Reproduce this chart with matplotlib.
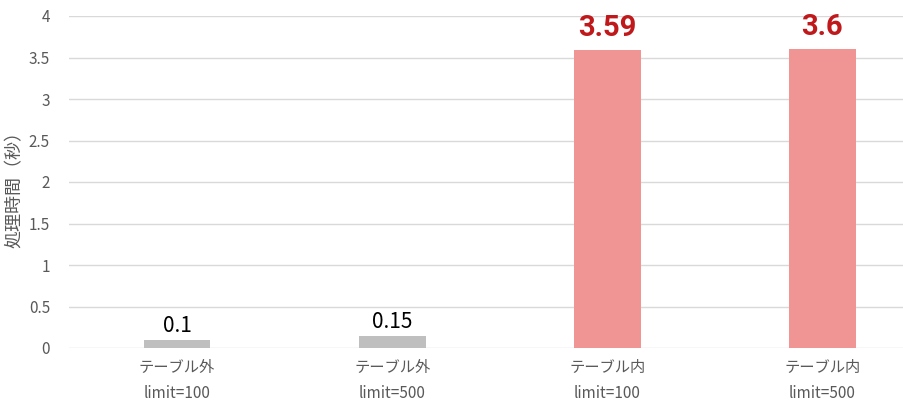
import matplotlib.pyplot as plt

plt.rcParams['font.family'] = ['Noto Sans CJK JP', 'DejaVu Sans']

# data
cases = ['テーブル外', 'テーブル外', 'テーブル内', 'テーブル内']
limits = ['limit=100', 'limit=500', 'limit=100', 'limit=500']
seconds = [0.1, 0.15, 3.59, 3.6]
value_labels = ['0.1', '0.15', '3.59', '3.6']
highlight = [False, False, True, True]

W, H = 904, 417
fig = plt.figure(figsize=(W / 100, H / 100), dpi=100)
# axes runs a bit past the right edge, like the original crop
left, right = 69.5, 930
bottom, top = 348, 16
ax = fig.add_axes([left / W, (H - bottom) / H, (right - left) / W, (bottom - top) / H])

x = list(range(len(seconds)))
colors = ['#F09494' if h else '#BFBFBF' for h in highlight]
ax.bar(x, seconds, width=0.31, color=colors, zorder=2)

for xi, v, lab, h in zip(x, seconds, value_labels, highlight):
    if h:
        ax.annotate(lab, (xi, v), xytext=(0, 6), textcoords='offset points',
                    ha='center', va='bottom', fontsize=21, fontweight='bold',
                    color='#C0191C', family=['Roboto', 'DejaVu Sans'])
    else:
        ax.annotate(lab, (xi, v), xytext=(0, 2), textcoords='offset points',
                    ha='center', va='bottom', fontsize=15, color='#000000')

ax.set_xlim(-0.5, 3.5)
ax.set_ylim(0, 4)
ax.set_yticks([0, 0.5, 1, 1.5, 2, 2.5, 3, 3.5, 4])
ax.set_yticklabels(['0', '0.5', '1', '1.5', '2', '2.5', '3', '3.5', '4'])
ax.grid(axis='y', color='#D9D9D9', linewidth=1, zorder=0)
ax.set_axisbelow(True)
for s in ax.spines.values():
    s.set_visible(False)
ax.tick_params(axis='y', length=0, pad=14, labelsize=11, labelcolor='#595959')
ax.tick_params(axis='x', length=0)
ax.set_xticks(x)
ax.set_xticklabels([])

for xi, c, l in zip(x, cases, limits):
    ax.annotate(c, (xi, 0), xytext=(0, -14), textcoords='offset points',
                ha='center', va='center', fontsize=11, color='#595959')
    ax.annotate(l, (xi, 0), xytext=(0, -33), textcoords='offset points',
                ha='center', va='center', fontsize=11, color='#595959')

fig.text(15 / W, (H - 185) / H, '処理時間（秒）', rotation=90, ha='center', va='center',
         fontsize=13, color='#595959')

fig.savefig('out.png', dpi=100)
